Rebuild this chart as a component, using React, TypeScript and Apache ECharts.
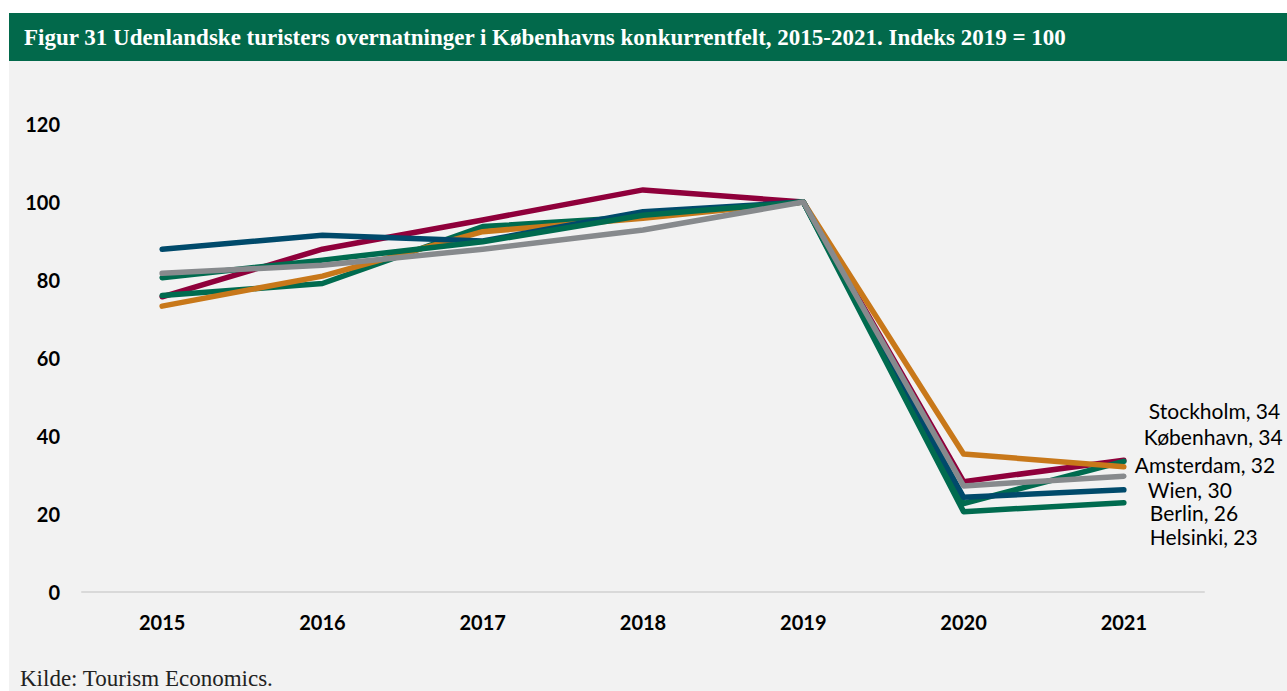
import React, { useEffect, useRef } from "react";
import * as echarts from "echarts";

const years = ["2015", "2016", "2017", "2018", "2019", "2020", "2021"];

const stockholm = [75.7, 87.9, 95.4, 103.1, 100, 28.3, 33.8];
const koebenhavn = [76.0, 79.1, 93.7, 96.2, 100, 22.7, 33.5];
const amsterdam = [73.3, 81.0, 92.4, 95.8, 100, 35.4, 32.1];
const berlin = [87.9, 91.5, 90.0, 97.5, 100, 24.3, 26.2];
const helsinki = [80.6, 85.1, 89.8, 96.6, 100, 20.6, 22.9];
const wien = [81.7, 83.8, 87.9, 92.8, 100, 27.2, 29.7];

const seriesNames = ["Stockholm", "København", "Amsterdam", "Berlin", "Helsinki", "Wien"];
const seriesData = [stockholm, koebenhavn, amsterdam, berlin, helsinki, wien];
const seriesColors = ["#8f003b", "#006b4f", "#c8781a", "#004a6b", "#006b4f", "#878a8d"];
const labelOffsets = [
  [20, -50],
  [15, -25],
  [6, -2],
  [21, 23],
  [21, 34],
  [19, 13],
];

const titleText = "Figur 31 Udenlandske turisters overnatninger i Københavns konkurrentfelt, 2015-2021. Indeks 2019 = 100";
const sourceText = "Kilde: Tourism Economics.";

export default function App() {
  const ref = useRef<HTMLDivElement>(null);
  useEffect(() => {
    if (!ref.current) return;
    const chart = echarts.init(ref.current, null, { renderer: "svg" });
    chart.setOption({
      animation: false,
      backgroundColor: "#ffffff",
      graphic: [
        { type: "rect", z: -10, shape: { x: 9, y: 61, width: 1278, height: 630 }, style: { fill: "#f2f2f2" } },
        { type: "rect", z: -10, shape: { x: 9, y: 13, width: 1278, height: 48 }, style: { fill: "#02694b" } },
        {
          type: "text",
          x: 24,
          y: 37,
          style: {
            text: titleText,
            fill: "#ffffff",
            font: "bold 23px 'Liberation Serif', serif",
            textVerticalAlign: "middle",
          },
        },
        {
          type: "text",
          x: 20,
          y: 678,
          style: {
            text: sourceText,
            fill: "#222222",
            font: "23px 'Liberation Serif', serif",
            textVerticalAlign: "middle",
          },
        },
      ],
      grid: { left: 82, right: 83, top: 124, bottom: 99, containLabel: false },
      xAxis: {
        type: "category",
        data: years,
        boundaryGap: true,
        axisLine: { show: true, lineStyle: { color: "#d9d9d9", width: 2 } },
        axisTick: { show: false },
        axisLabel: {
          margin: 20,
          color: "#000000",
          fontFamily: "Lato",
          fontWeight: "bold",
          fontSize: 20,
        },
      },
      yAxis: {
        type: "value",
        min: 0,
        max: 120,
        interval: 20,
        axisLine: { show: false },
        axisTick: { show: false },
        splitLine: { show: false },
        axisLabel: {
          margin: 22,
          color: "#000000",
          fontFamily: "Lato",
          fontWeight: "bold",
          fontSize: 20,
        },
      },
      series: seriesNames.map((name, i) => ({
        name,
        type: "line",
        data: seriesData[i],
        symbol: "none",
        lineStyle: { color: seriesColors[i], width: 5.5, cap: "round", join: "round" },
        itemStyle: { color: seriesColors[i] },
        endLabel: {
          show: true,
          distance: 5,
          offset: labelOffsets[i],
          color: "#000000",
          fontFamily: "Lato",
          fontSize: 21,
          formatter: (p: any) => `${p.seriesName}, ${Math.round(p.value)}`,
        },
      })),
    });
    return () => chart.dispose();
  }, []);
  return (
    <div
      ref={ref}
      style={{ position: "fixed", left: 0, top: 0, width: 1287, height: 691 }}
    />
  );
}
